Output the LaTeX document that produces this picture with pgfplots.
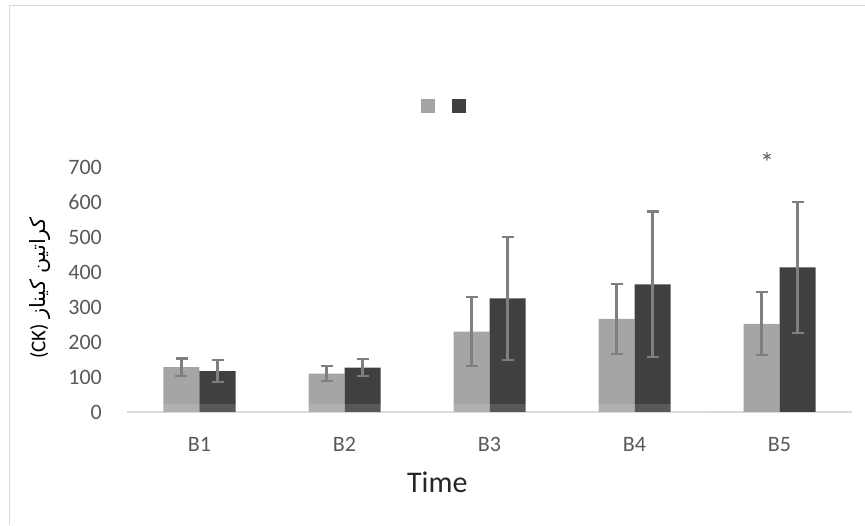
\documentclass[border=0pt]{standalone}
\usepackage{pgfplots}
\pgfplotsset{compat=1.18}
\usepackage{pgfplotstable}
\usepackage{fontspec}
\setmainfont{Carlito}
\newfontfamily\arabicfont[Script=Arabic]{DejaVu Sans}
\TeXXeTstate=1
\definecolor{lightbar}{HTML}{A5A5A5}
\definecolor{darkbar}{HTML}{404040}
\definecolor{errgray}{HTML}{7F7F7F}
\definecolor{axisgray}{HTML}{D9D9D9}
\definecolor{ticktext}{HTML}{595959}
\definecolor{framegray}{HTML}{D9D9D9}

\pgfplotstableread{
x y err
0 128 25
1 110 22
2 230 99
3 266 100
4 252 90
}\lightdata
\pgfplotstableread{
x y err
0 117 32
1 127 24
2 325 176
3 365 208
4 413 187
}\darkdata

\begin{document}
\begin{tikzpicture}
\useasboundingbox (0,0) rectangle (865pt,525pt);
\draw[color=framegray, line width=1.5pt] (9.5pt,0pt) -- (9.5pt,519.5pt) -- (865pt,519.5pt);
\begin{axis}[
  at={(127pt,113pt)}, anchor=south west,
  scale only axis, width=725pt, height=245pt,
  xmin=-0.5, xmax=4.5, ymin=0, ymax=700,
  clip=false,
  ybar=0pt, bar width=36pt,
  font=\fontsize{22}{26}\selectfont,
  /pgf/number format/assume math mode=true,
  axis x line*=bottom, axis y line*=left,
  x axis line style={draw=axisgray, line width=1.5pt},
  y axis line style={draw=none},
  major tick length=0pt, tick style={draw=none},
  xtick={0,1,2,3,4}, xticklabels={B1,B2,B3,B4,B5},
  ytick={0,100,...,700},
  ticklabel style={text=ticktext},
  xticklabel style={anchor=base, yshift=-40pt, inner sep=0pt},
  yticklabel style={anchor=east, xshift=-25pt, inner sep=0pt},
  xlabel={Time},
  xlabel style={at={(axis description cs:0.428,-0.286)}, anchor=center, font=\fontsize{30}{34}\selectfont, text=black!85},
  ylabel={(CK) {\arabicfont\beginR کراتین کیناز\endR}},
  ylabel style={at={(axis description cs:-0.12,0.506)}, anchor=center, font=\fontsize{21}{24}\selectfont, text=black},
  legend columns=2,
  legend style={draw=none, fill=none, at={(axis description cs:0.437,1.247)}, anchor=center,
    nodes={inner sep=0pt}, /tikz/every even column/.append style={column sep=16pt}},
  legend image code/.code={\path[#1] (0pt,-7pt) rectangle (14pt,7pt);},
]
\addplot[fill=lightbar, draw=none,
  error bars/.cd, y dir=both, y explicit,
  error bar style={draw=errgray, solid, line width=2.2pt},
  error mark options={rotate=90, mark size=6pt, draw=errgray, solid, line width=2.2pt}]
  table[x=x, y=y, y error=err] {\lightdata};
\addlegendentry{\mbox{}}
\addplot[fill=darkbar, draw=none,
  error bars/.cd, y dir=both, y explicit,
  error bar style={draw=errgray, solid, line width=2.2pt},
  error mark options={rotate=90, mark size=6pt, draw=errgray, solid, line width=2.2pt}]
  table[x=x, y=y, y error=err] {\darkdata};
\addlegendentry{\mbox{}}
\fill[white, opacity=0.13] (axis cs:-0.5,0) rectangle (axis cs:3.5,23);
\node[font=\fontsize{28}{30}\selectfont, text=ticktext] at (axis cs:3.914,712) {*};
\end{axis}
\end{tikzpicture}
\end{document}
